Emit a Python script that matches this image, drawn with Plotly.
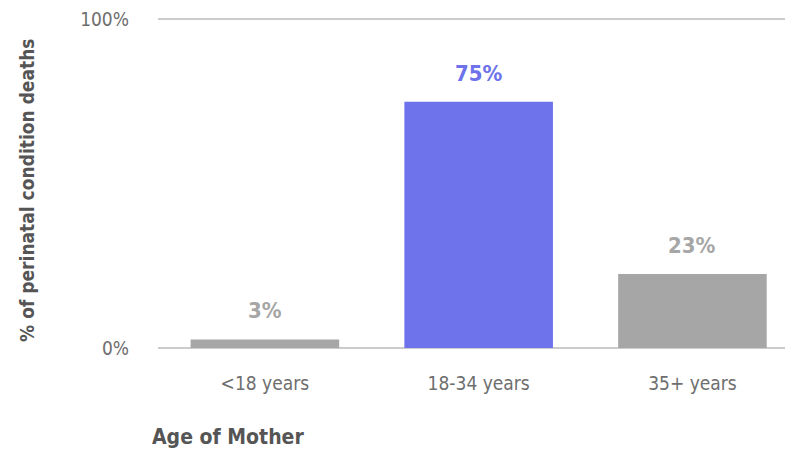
import plotly.graph_objects as go

categories = ["<18 years", "18-34 years", "35+ years"]
values = [2.6, 74.9, 22.5]
labels = ["3%", "75%", "23%"]
bar_colors = ["#a6a6a6", "#6e72eb", "#a6a6a6"]
y_ticks = [0, 100]
y_tick_labels = ["0%", "100%"]

FONT = "DejaVu Sans Condensed, Open Sans Condensed, Liberation Sans Narrow, Open Sans, sans-serif"

fig = go.Figure()
fig.add_trace(go.Bar(
    x=categories, y=values, marker=dict(color=bar_colors, line=dict(width=0)),
    width=0.695, hoverinfo="skip",
))

for c, v, t, col in zip(categories, values, labels, bar_colors):
    fig.add_annotation(x=c, y=v, text="<b>%s</b>" % t, showarrow=False,
                       yanchor="bottom", yshift=14,
                       font=dict(family=FONT, size=22, color=col))

fig.add_annotation(xref="paper", yref="paper", x=-0.0128, y=-0.268, xanchor="left", yanchor="middle",
                   text="<b>Age of Mother</b>", showarrow=False,
                   font=dict(family=FONT, size=21, color="#555555"))
fig.add_annotation(xref="paper", yref="paper", x=-0.209, y=0.476, xanchor="center", yanchor="middle",
                   text="<b>% of perinatal condition deaths</b>", textangle=-90, showarrow=False,
                   font=dict(family=FONT, size=19, color="#555555"))

fig.update_layout(
    width=787, height=453,
    margin=dict(l=158, r=2, t=16, b=105),
    paper_bgcolor="white", plot_bgcolor="white",
    showlegend=False,
    xaxis=dict(range=[-0.5, 2.433], showgrid=False, showline=False, zeroline=False,
               ticks="", ticklabelstandoff=22,
               tickfont=dict(family=FONT, size=19, color="#6e6e6e")),
    yaxis=dict(range=[0, 101], tickvals=y_ticks, ticktext=y_tick_labels,
               showgrid=True, gridcolor="#cccccc", gridwidth=1.5,
               zeroline=True, zerolinecolor="#cccccc", zerolinewidth=1.5,
               showline=False, ticks="", ticklabelstandoff=28,
               tickfont=dict(family=FONT, size=19, color="#6e6e6e")),
)

fig.write_html("out.html", config={"displayModeBar": False},
               post_script="document.body.style.margin='0';")
